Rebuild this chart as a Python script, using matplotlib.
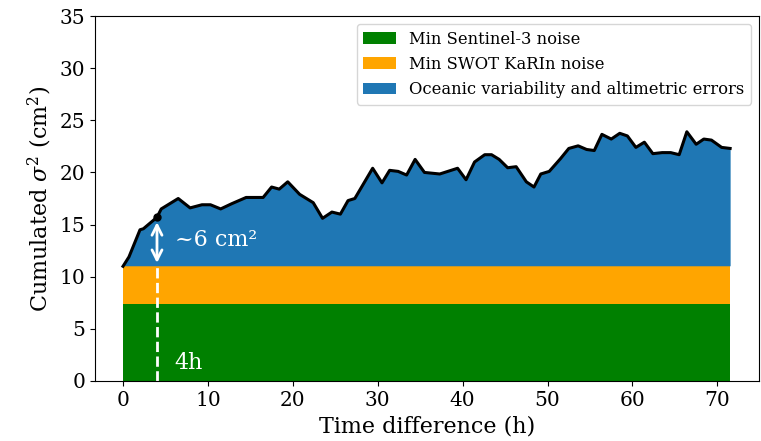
import numpy as np
import matplotlib
matplotlib.use("Agg")
import matplotlib.pyplot as plt

plt.rcParams['font.family'] = 'DejaVu Serif'
plt.rcParams['mathtext.fontset'] = 'dejavuserif'

# time difference (h) and cumulated variance (cm^2)
t = [0, 0.7, 2.0, 2.4, 4.0, 4.5, 6.5, 7.9, 9.3, 10.3, 11.5, 12.8, 14.5, 16.5, 17.5,
     18.4, 19.4, 20.8, 22.4, 23.5, 24.6, 25.6, 26.5, 27.3, 29.4, 30.5, 31.4, 32.4,
     33.4, 34.4, 35.5, 37.3, 39.4, 40.4, 41.4, 42.6, 43.4, 44.3, 45.3, 46.3, 47.5,
     48.4, 49.2, 50.2, 51.5, 52.5, 53.6, 54.6, 55.5, 56.4, 57.5, 58.5, 59.4, 60.4,
     61.4, 62.4, 63.5, 64.5, 65.5, 66.4, 67.5, 68.4, 69.3, 70.5, 71.5]
total = [11.0, 11.9, 14.5, 14.6, 15.7, 16.5, 17.5, 16.6, 16.9, 16.9, 16.5, 17.0, 17.6,
         17.6, 18.6, 18.4, 19.1, 17.9, 17.1, 15.6, 16.2, 16.0, 17.3, 17.5, 20.4, 19.0,
         20.2, 20.1, 19.75, 21.25, 20.0, 19.85, 20.4, 19.3, 21.0, 21.7, 21.7, 21.25,
         20.45, 20.55, 19.1, 18.6, 19.85, 20.1, 21.3, 22.3, 22.55, 22.2, 22.1, 23.65,
         23.2, 23.75, 23.5, 22.4, 22.9, 21.8, 21.9, 21.9, 21.7, 23.9, 22.7, 23.2, 23.1,
         22.4, 22.3]
s3_noise = 7.4
swot_noise = 11.05
t_mark = 4.0
y_mark = 15.7

t = np.array(t)
total = np.array(total)

fig = plt.figure(figsize=(7.61, 4.41), dpi=100)
ax = fig.add_axes([95/761, 1-381/441, (759-95)/761, (381-16)/441])

ax.fill_between(t, 0, s3_noise, color='green', label='Min Sentinel-3 noise', lw=0)
ax.fill_between(t, s3_noise, swot_noise, color='orange', label='Min SWOT KaRIn noise', lw=0)
ax.fill_between(t, swot_noise, total, color='#1f77b4',
                label='Oceanic variability and altimetric errors', lw=0)
ax.plot(t, total, color='black', lw=2.2)
ax.plot([t_mark], [y_mark], 'o', color='black', ms=5)

ax.annotate('', xy=(t_mark, swot_noise), xytext=(t_mark, y_mark - 0.2),
            arrowprops=dict(arrowstyle='<->', color='white', lw=2, mutation_scale=18))
ax.plot([t_mark, t_mark], [0, swot_noise], color='white', ls='--', lw=2)
ax.text(6.1, 13.5, '~6 cm²', color='white', fontsize=16, va='center')
ax.text(6.1, 1.7, '4h', color='white', fontsize=16, va='center')

ax.set_xlim(-3.3, 74.9)
ax.set_ylim(0, 35)
ax.set_xticks(np.arange(0, 71, 10))
ax.set_yticks(np.arange(0, 36, 5))
ax.tick_params(labelsize=14.5)
ax.set_xlabel('Time difference (h)', fontsize=16)
ax.set_ylabel(r'Cumulated $\sigma^2$ (cm$^2$)', fontsize=16)
ax.legend(loc='upper right', fontsize=11.8)

fig.savefig('out.png', dpi=100)
